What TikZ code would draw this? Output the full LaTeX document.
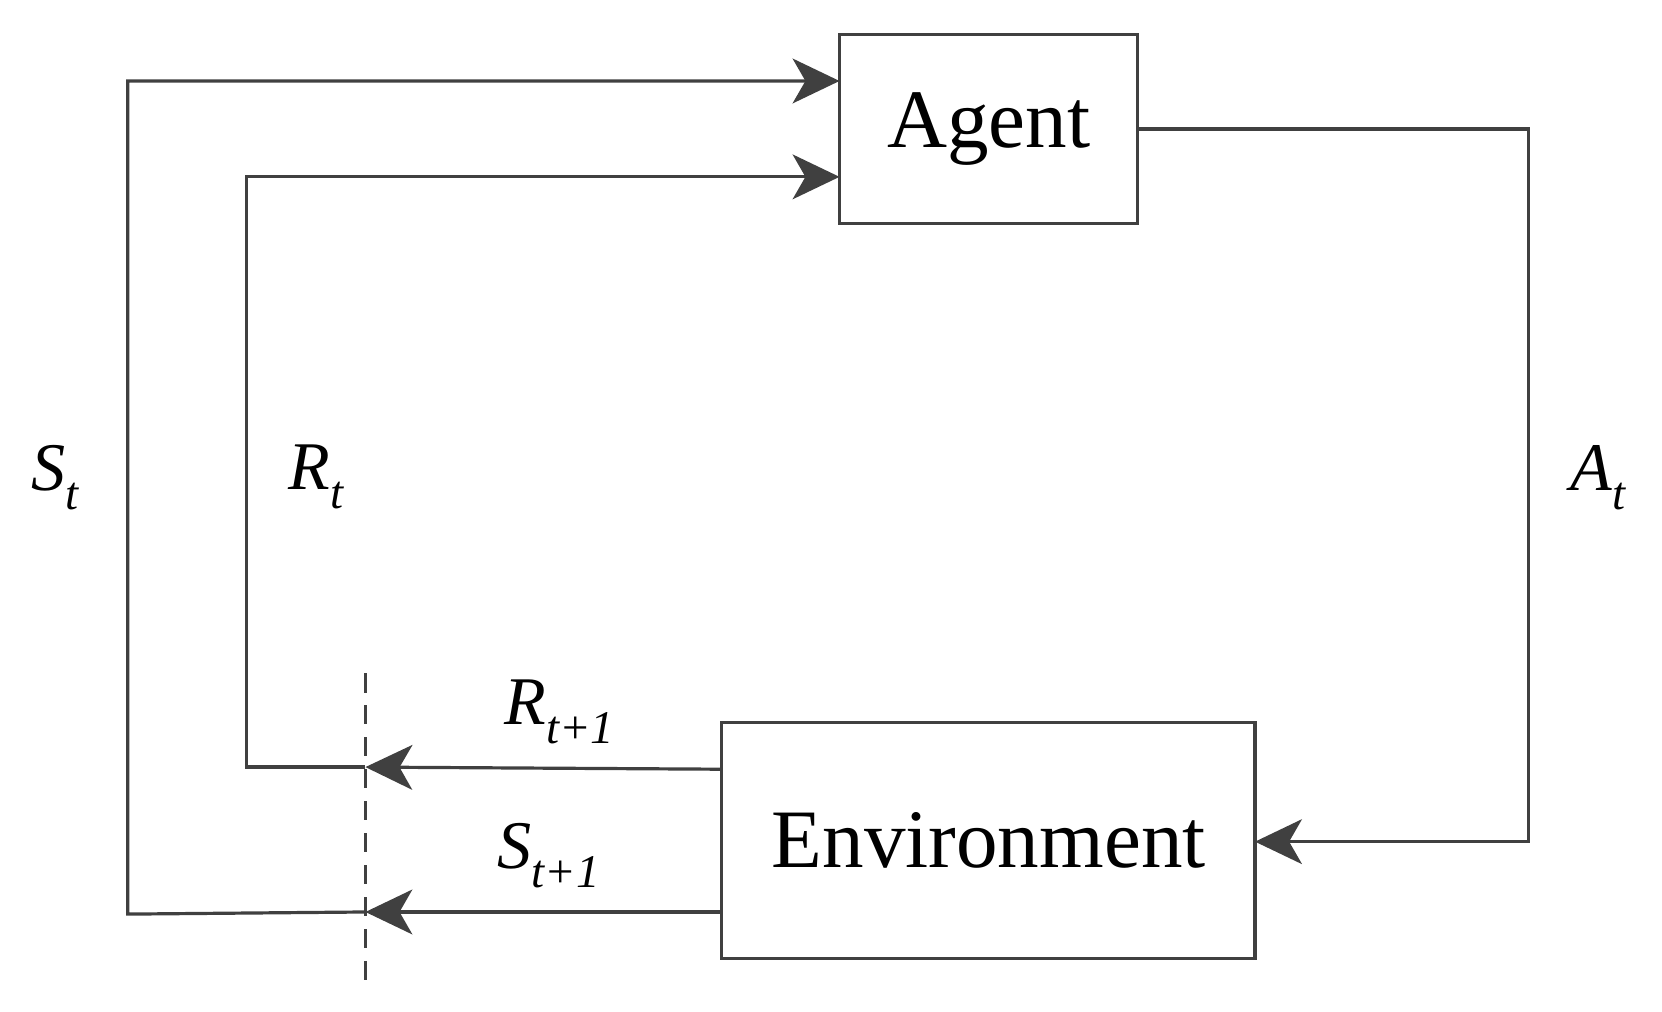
\documentclass[tikz,border=0pt]{standalone}
\usepackage{fontspec}
\setmainfont{Liberation Serif}
\usetikzlibrary{arrows.meta}
\definecolor{ln}{HTML}{404040}
\newcommand{\lab}[2]{\textit{#1}\raisebox{-0.28em}{\fontsize{22pt}{24pt}\selectfont\textit{#2}}}
\begin{document}
\begin{tikzpicture}[x=0.5pt,y=-0.5pt,
  box/.style={draw=ln,line width=1.5pt,minimum width=0pt,inner sep=0pt,font=\fontsize{39pt}{44pt}\selectfont},
  con/.style={draw=ln,line width=1.5pt},
  arr/.style={con,-{Stealth[length=22pt,width=21pt,inset=6pt]}},
  lb/.style={font=\fontsize{32pt}{36pt}\selectfont}]
\useasboundingbox (0,0) rectangle (1560,949);
\draw[box] (788,32) rectangle (1068,210);
\node[font=\fontsize{39pt}{44pt}\selectfont] (agent) at (928,121) {Agent};
\draw[box] (677,678) rectangle (1178,900);
\node[font=\fontsize{39pt}{44pt}\selectfont] (env) at (928,789) {Environment};
\coordinate (aS) at (788,76);
\coordinate (aR) at (788,166);
\coordinate (aA) at (1068,121);
\coordinate (eA) at (1178,790);
\coordinate (eR) at (677,722);
\coordinate (eS) at (677,856);
\coordinate (dR) at (343,720);
\coordinate (dS) at (343,856);
\coordinate (sb) at (120,858);
\coordinate (st) at (120,76);
\coordinate (rb) at (231,720);
\coordinate (rt) at (231,166);
\coordinate (ar) at (1435,121);
\coordinate (ab) at (1435,790);
\coordinate (d1) at (343,632);
\coordinate (d2) at (343,925);
\draw[arr] (dS) -- (sb) -- (st) -- (aS);
\draw[arr] (dR) -- (rb) -- (rt) -- (aR);
\draw[arr] (aA) -- (ar) -- (ab) -- (eA);
\draw[arr] (eR) -- (dR);
\draw[arr] (eS) -- (dS);
\draw[draw=ln,line width=1.2pt,dash pattern=on 9pt off 6pt] (d1) -- (d2);
\node[lb] (lS) at (52,448) {\lab{S}{t}};
\node[lb] (lR) at (297,448) {\lab{R}{t}};
\node[lb] (lA) at (1500,448) {\lab{A}{t}};
\node[lb] (lR1) at (525,668) {\lab{R}{t+1}};
\node[lb] (lS1) at (515,803) {\lab{S}{t+1}};
\end{tikzpicture}
\end{document}
